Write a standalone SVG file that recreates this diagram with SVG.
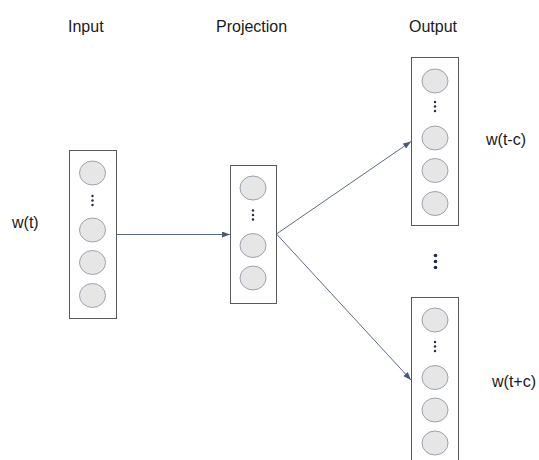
<svg xmlns="http://www.w3.org/2000/svg" width="539" height="460" viewBox="0 0 539 460">
<defs>
<style>
.box{fill:#fff;stroke:#595959;stroke-width:1}
.n{fill:#e6e6e6;stroke:#9ba3ae;stroke-width:1}
.d{fill:#1f2a44}
.t{font-family:"Liberation Sans",Arial,sans-serif;font-size:16px;fill:#1a1a1a}
.c{stroke:#5b6b80;stroke-width:1;fill:none;marker-end:url(#ah)}
</style>
<marker id="ah" viewBox="0 0 8 6" refX="8" refY="3" markerWidth="8" markerHeight="6" markerUnits="userSpaceOnUse" orient="auto">
<path d="M0,0 L8,3 L0,6 z" fill="#4a5a70"/>
</marker>
</defs>
<rect width="539" height="460" fill="#fff"/>
<g id="labels">
<text class="t" x="68" y="31.5">Input</text>
<text class="t" x="216" y="31.5">Projection</text>
<text class="t" x="409" y="31.5">Output</text>
<text class="t" x="12" y="228">w(t)</text>
<text class="t" x="486" y="145">w(t-c)</text>
<text class="t" x="492" y="387">w(t+c)</text>
</g>
<g id="connectors">
<line class="c" x1="116.5" y1="234.5" x2="230" y2="234.5"/>
<line class="c" x1="276.5" y1="234" x2="411" y2="141.5"/>
<line class="c" x1="276.5" y1="234" x2="411" y2="380"/>
</g>
<g id="input">
<rect class="box" x="69.5" y="150.5" width="47" height="168"/>
<ellipse class="n" cx="92.5" cy="173" rx="13" ry="12"/>
<circle class="d" cx="92.5" cy="196" r="1.2"/>
<circle class="d" cx="92.5" cy="200.5" r="1.2"/>
<circle class="d" cx="92.5" cy="205" r="1.2"/>
<ellipse class="n" cx="92.5" cy="230" rx="13" ry="12"/>
<ellipse class="n" cx="92.5" cy="262.5" rx="13" ry="12"/>
<ellipse class="n" cx="92.5" cy="295.5" rx="13" ry="12"/>
</g>
<g id="projection">
<rect class="box" x="230.5" y="165.5" width="46" height="138"/>
<ellipse class="n" cx="253" cy="188" rx="13" ry="12"/>
<circle class="d" cx="253" cy="210.5" r="1.2"/>
<circle class="d" cx="253" cy="215" r="1.2"/>
<circle class="d" cx="253" cy="219.5" r="1.2"/>
<ellipse class="n" cx="253" cy="245.5" rx="13" ry="12"/>
<ellipse class="n" cx="253" cy="278" rx="13" ry="12"/>
</g>
<g id="output-top">
<rect class="box" x="411.5" y="57.5" width="47" height="168"/>
<ellipse class="n" cx="435" cy="81" rx="13" ry="12"/>
<circle class="d" cx="435" cy="102" r="1.2"/>
<circle class="d" cx="435" cy="106.5" r="1.2"/>
<circle class="d" cx="435" cy="111" r="1.2"/>
<ellipse class="n" cx="435" cy="138" rx="13" ry="12"/>
<ellipse class="n" cx="435" cy="170.5" rx="13" ry="12"/>
<ellipse class="n" cx="435" cy="203.5" rx="13" ry="12"/>
</g>
<g id="ellipsis">
<circle class="d" cx="435.5" cy="255.5" r="1.8"/>
<circle class="d" cx="435.5" cy="261.5" r="1.8"/>
<circle class="d" cx="435.5" cy="267.5" r="1.8"/>
</g>
<g id="output-bottom">
<rect class="box" x="411.5" y="297.5" width="47" height="168"/>
<ellipse class="n" cx="435" cy="320" rx="13" ry="12"/>
<circle class="d" cx="435" cy="342" r="1.2"/>
<circle class="d" cx="435" cy="346.5" r="1.2"/>
<circle class="d" cx="435" cy="351" r="1.2"/>
<ellipse class="n" cx="435" cy="377.5" rx="13" ry="12"/>
<ellipse class="n" cx="435" cy="410" rx="13" ry="12"/>
<ellipse class="n" cx="435" cy="443" rx="13" ry="12"/>
</g>
</svg>
